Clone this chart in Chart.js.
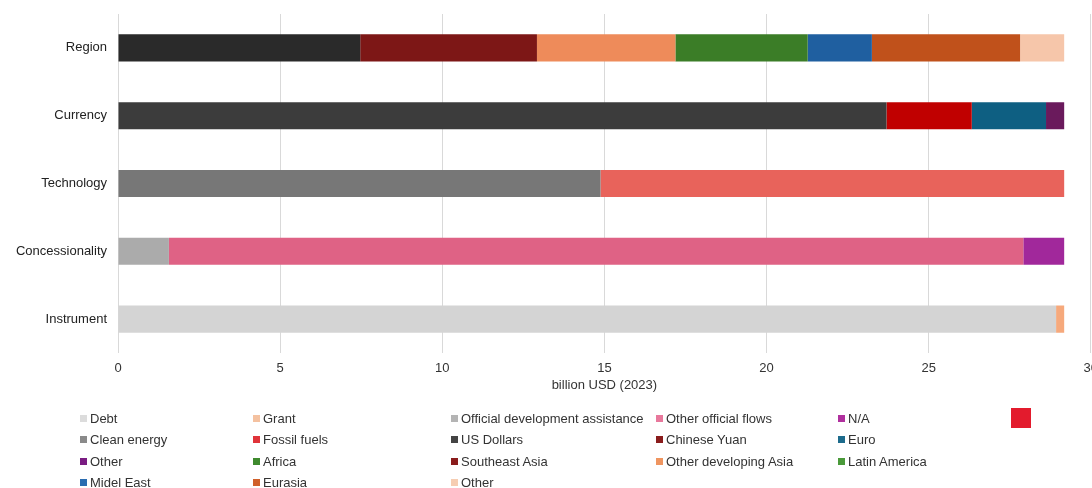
<!DOCTYPE html>
<html>
<head>
<meta charset="utf-8">
<script src="https://cdn.jsdelivr.net/npm/chart.js@4.4.1/dist/chart.umd.min.js"></script>
<style>
  html, body { margin: 0; padding: 0; background: #fff; width: 1092px; height: 488px; overflow: hidden; }
  #wrap { position: absolute; left: 0; top: 0; width: 1106px; height: 400px; }
  #legend { position: absolute; left: 0; top: 0; width: 1092px; height: 488px; pointer-events: none;
            font-family: "Liberation Sans", Arial, sans-serif; font-size: 13px; color: #333; }
  .li { position: absolute; white-space: nowrap; line-height: 16px; }
  .li i { display: inline-block; width: 7px; height: 7px; margin-right: 3px; vertical-align: 1px; }
  .blank { position: absolute; left: 1011px; top: 408px; width: 20px; height: 20px; background: #e31b2d; }
</style>
</head>
<body>
<div id="wrap"><canvas id="chart" width="1106" height="400"></canvas></div>
<div id="legend"></div>
<script>
/* ---------- 数据 ---------- */
const categories = ['Region', 'Currency', 'Technology', 'Concessionality', 'Instrument'];

const instrumentLabels = ['Debt', 'Grant'];
const instrumentValues = [28.93, 0.25];

const concessionalityLabels = ['Official development assistance', 'Other official flows', 'N/A'];
const concessionalityValues = [1.57, 26.35, 1.26];

const technologyLabels = ['Clean energy', 'Fossil fuels'];
const technologyValues = [14.88, 14.30];

const currencyLabels = ['US Dollars', 'Chinese Yuan', 'Euro', 'Other'];
const currencyValues = [23.70, 2.63, 2.29, 0.56];

const regionLabels = ['Africa', 'Southeast Asia', 'Other developing Asia', 'Latin America', 'Midel East', 'Eurasia', 'Other'];
const regionValues = [7.47, 5.45, 4.27, 4.08, 1.98, 4.57, 1.36];

const xTicks = [0, 5, 10, 15, 20, 25, 30];

/* ---------- 颜色 ---------- */
const groups = [
  { cat: 'Instrument', labels: instrumentLabels, values: instrumentValues,
    bar: ['#d4d4d4', '#f6a97c'], key: ['#dcdcdc', '#f4c1a0'] },
  { cat: 'Concessionality', labels: concessionalityLabels, values: concessionalityValues,
    bar: ['#ababab', '#df6285', '#a1289b'], key: ['#b4b4b4', '#e8789c', '#b0309e'] },
  { cat: 'Technology', labels: technologyLabels, values: technologyValues,
    bar: ['#777777', '#e8635b'], key: ['#8a8a8a', '#e0343a'] },
  { cat: 'Currency', labels: currencyLabels, values: currencyValues,
    bar: ['#3c3c3c', '#c00000', '#0e5f82', '#6a1a5c'], key: ['#444444', '#8a1c1c', '#1d6b8c', '#7a1c82'] },
  { cat: 'Region', labels: regionLabels, values: regionValues,
    bar: ['#2a2a2a', '#7d1716', '#ee8b5a', '#3b7d27', '#1f5fa0', '#c0511b', '#f6c6aa'],
    key: ['#3f8a2e', '#8a1c1c', '#ef9560', '#4a9a3a', '#2a6cb0', '#d0602a', '#f6cdb2'] }
];

// 每个类别一组堆叠，按数据顺序从左到右
const datasets = [];
groups.forEach(g => {
  g.labels.forEach((lab, i) => {
    datasets.push({
      label: lab,
      data: categories.map(c => c === g.cat ? g.values[i] : null),
      backgroundColor: g.bar[i],
      borderWidth: 0,
      barPercentage: 0.4,
      categoryPercentage: 1
    });
  });
});

/* ---------- 图表 ---------- */
new Chart(document.getElementById('chart'), {
  type: 'bar',
  data: { labels: categories, datasets },
  options: {
    indexAxis: 'y',
    responsive: false,
    animation: false,
    layout: { padding: { top: 14, left: 0, right: 0, bottom: 0 } },
    plugins: { legend: { display: false }, tooltip: { enabled: false } },
    scales: {
      x: {
        stacked: true, min: 0, max: 30,
        afterBuildTicks: s => { s.ticks = xTicks.map(v => ({ value: v })); },
        afterFit: s => { s.height = 47; },
        grid: { color: '#d9d9d9', lineWidth: 1, drawTicks: false },
        border: { display: false },
        ticks: { color: '#333', font: { family: 'Liberation Sans', size: 13 }, padding: 8, maxRotation: 0 },
        title: { display: true, text: 'billion USD (2023)', color: '#333',
                 font: { family: 'Liberation Sans', size: 13 }, padding: { top: 0, bottom: 7 } }
      },
      y: {
        stacked: true,
        afterFit: s => { s.width = 118; s.paddingTop = 0; s.paddingBottom = 0; },
        grid: { display: false, drawTicks: false },
        border: { display: false },
        ticks: { color: '#222', font: { family: 'Liberation Sans', size: 13 }, padding: 11 }
      }
    }
  }
});

/* ---------- 图例（网格排列） ---------- */
const legendItems = [];
groups.forEach(g => g.labels.forEach((lab, i) => legendItems.push({ lab, col: g.key[i] })));
const colX = [80, 253, 451, 656, 838];
const legendEl = document.getElementById('legend');
legendItems.forEach((it, n) => {
  const d = document.createElement('div');
  d.className = 'li';
  d.style.left = colX[n % 5] + 'px';
  d.style.top = (411 + Math.floor(n / 5) * 21.3) + 'px';
  d.innerHTML = `<i style="background:${it.col}"></i>${it.lab}`;
  legendEl.appendChild(d);
});
const blank = document.createElement('div');
blank.className = 'blank';
legendEl.appendChild(blank);
</script>
</body>
</html>
